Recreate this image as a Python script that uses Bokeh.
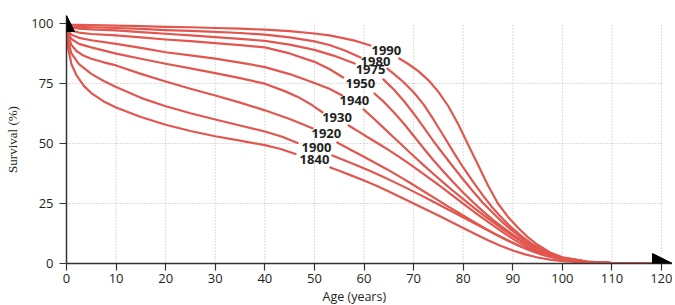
from bokeh.plotting import figure
from bokeh.models import ColumnDataSource, FixedTicker, Arrow, NormalHead, Range1d, Title
from bokeh.core.properties import value
from bokeh.embed import file_html
from bokeh.resources import INLINE

nan = float("nan")

# ---- data; nan marks the gap where the year label sits ----
cohorts = ["1990", "1980", "1975", "1950", "1940", "1930", "1920", "1900", "1840"]

ages_1990 = [0, 0.3, 1, 2.5, 5, 10, 15, 20, 25, 30, 35, 40, 45, 50, 53, 56, 58.5, 61.3, nan,
             67.1, 69, 71, 73, 75, 77, 79, 81, 83, 85, 87, 89, 91, 93, 95, 97.5, 100, 105, 110, 115, 120]
surv_1990 = [100, 99.7, 99.5, 99.4, 99.3, 99.1, 98.9, 98.6, 98.4, 98.1, 97.8, 97.4, 96.8, 95.8, 95, 93.8, 92.6, 90.8, nan,
             85.4, 83, 80, 76.3, 71.5, 65.5, 58, 49.5, 41, 32.5, 25, 19.5, 15, 11, 7.8, 4.6, 2.6, 0.8, 0.2, 0.04, 0]

ages_1980 = [0, 0.3, 1, 2.5, 5, 10, 15, 20, 25, 30, 35, 40, 45, 50, 53, 56, 59.3, nan,
             64.7, 66, 68, 70, 72, 74, 76, 78, 80, 82, 84, 86, 88, 90, 92, 94, 96, 98, 100, 105, 110, 115, 120]
surv_1980 = [100, 99.3, 98.9, 98.6, 98.4, 98.1, 97.7, 97.2, 96.9, 96.5, 96, 95.3, 94.2, 92.5, 91, 88.8, 85.8, nan,
             81.2, 79, 75.5, 71.3, 66.3, 60, 53.3, 46.5, 40, 34, 28.3, 23, 18.5, 14.5, 11, 8, 5.6, 3.8, 2.5, 0.8, 0.2, 0.04, 0]

ages_1975 = [0, 0.3, 1, 2.5, 5, 10, 15, 20, 25, 30, 35, 40, 45, 50, 54, 58.1, nan,
             63.9, 66, 68, 70, 72, 74, 76, 78, 80, 82, 84, 86, 88, 90, 92, 94, 96, 98, 100, 105, 110, 115, 120]
surv_1975 = [100, 98.9, 98.3, 97.8, 97.5, 97.1, 96.4, 95.7, 95, 94.3, 93.6, 92.7, 91.2, 89, 86.5, 83.3, nan,
             76.7, 72.5, 67.8, 62.5, 56.8, 51, 45.5, 40.2, 35, 30, 25.2, 21, 17, 13.5, 10.3, 7.6, 5.3, 3.6, 2.3, 0.7, 0.2, 0.04, 0]

ages_1950 = [0, 0.3, 1, 2.5, 5, 10, 15, 20, 25, 30, 35, 40, 45, 50, 53, 55.8, nan,
             62.1, 64, 66, 68, 70, 72, 74, 76, 78, 80, 82, 84, 86, 88, 90, 92, 94, 96, 98, 100, 105, 110, 115, 120]
surv_1950 = [100, 98, 97, 96.2, 95.6, 95, 94.2, 93.3, 92.6, 91.8, 91, 90, 87.5, 84, 81, 77.5, nan,
             70.8, 67.3, 63, 58.3, 53.2, 48, 43, 38.3, 33.8, 29.5, 25.5, 21.7, 18.2, 15, 12, 9.3, 7, 5, 3.4, 2.2, 0.7, 0.2, 0.04, 0]

ages_1940 = [0, 0.3, 1, 2.5, 5, 10, 15, 20, 25, 30, 35, 40, 45, 50, 53, 55.6, nan,
             59.9, 62, 64, 66, 68, 70, 72, 74, 76, 78, 80, 82, 84, 86, 88, 90, 92, 94, 96, 98, 100, 105, 110, 115, 120]
surv_1940 = [100, 97, 95.3, 94, 93, 91.5, 89.8, 88, 86.7, 85.3, 83.7, 81.8, 78.9, 75.2, 72.8, 70, nan,
             64.2, 60.3, 56.4, 52.5, 48.6, 44.8, 41, 37.3, 33.7, 30.2, 26.8, 23.5, 20.3, 17.2, 14.2, 11.4, 8.8, 6.6, 4.7, 3.2, 2, 0.7, 0.2, 0.04, 0]

ages_1930 = [0, 0.3, 1, 2.5, 5, 10, 15, 20, 25, 30, 35, 40, 44, 47, 49.5, 51.6, nan,
             56.9, 59, 61, 63, 65, 67, 69, 71, 73, 75, 77, 79, 81, 83, 85, 87, 89, 91, 93, 95, 97.5, 100, 105, 110, 115, 120]
surv_1930 = [100, 96, 93.5, 91.5, 90, 87.4, 85.3, 83.2, 81.3, 79.3, 77.2, 74.9, 71.8, 69, 66, 63, nan,
             57.5, 54.8, 52.3, 49.8, 47.2, 44.5, 41.7, 38.8, 35.8, 32.8, 29.6, 26.5, 23.4, 20.3, 17.3, 14.4, 11.6, 9, 6.8, 4.9, 3.1, 1.8, 0.6, 0.15, 0.03, 0]

ages_1920 = [0, 0.3, 1, 2, 3.5, 5, 7.5, 10, 15, 20, 25, 30, 35, 40, 45, 49.6, nan,
             54.6, 57, 59.5, 62, 64.5, 67, 69.5, 72, 74.5, 77, 79.5, 82, 84.5, 87, 89.5, 92, 94.5, 97, 100, 105, 110, 115, 120]
surv_1920 = [100, 95, 91, 88.5, 86.5, 85.3, 83.8, 82.5, 79, 75.8, 72.8, 70, 67, 63.8, 60.2, 56.3, nan,
             50.4, 47.7, 45, 42.2, 39.4, 36.4, 33.3, 30.1, 26.9, 23.7, 20.6, 17.5, 14.5, 11.7, 9.1, 6.8, 4.8, 3.2, 1.8, 0.6, 0.15, 0.03, 0]

ages_1900 = [0, 0.3, 1, 2.5, 5, 7.5, 10, 15, 20, 25, 30, 35, 40, 43.5, 46.6, nan,
             53.6, 56, 58.5, 61, 63.5, 66, 68.5, 71, 73.5, 76, 78.5, 81, 83.5, 86, 88.5, 91, 93.5, 96, 98.5, 101, 105, 110, 115, 120]
surv_1900 = [100, 93, 87.5, 83, 79, 76, 73.5, 69, 65.5, 62.6, 60, 57.5, 55, 52.8, 50.2, nan,
             45, 43, 40.9, 38.7, 36.4, 34, 31.5, 28.9, 26.2, 23.5, 20.8, 18.1, 15.4, 12.7, 10.1, 7.6, 5.4, 3.6, 2.3, 1.4, 0.6, 0.15, 0.03, 0]

ages_1840 = [0, 0.3, 1, 2, 3.5, 5, 7.5, 10, 15, 20, 25, 30, 35, 40, 43, 46.2, nan,
             53.2, 55, 57.5, 60, 62.5, 65, 67.5, 70, 72.5, 75, 77.5, 80, 82.5, 85, 87.5, 90, 92.5, 95, 97.5, 100, 105, 110, 115, 120]
surv_1840 = [100, 90, 83, 78.5, 74, 71, 67.5, 65, 61, 57.8, 55.2, 53, 51.2, 49.3, 47.8, 45.6, nan,
             40, 38.6, 36.6, 34.6, 32.4, 30, 27.5, 25, 22.5, 20, 17.4, 14.8, 12.2, 9.7, 7.4, 5.4, 3.8, 2.5, 1.6, 1, 0.4, 0.15, 0.05, 0]

x_ticks = [0, 10, 20, 30, 40, 50, 60, 70, 80, 90, 100, 110, 120]
y_ticks = [0, 25, 50, 75, 100]

series = {
    "1990": (ages_1990, surv_1990), "1980": (ages_1980, surv_1980),
    "1975": (ages_1975, surv_1975), "1950": (ages_1950, surv_1950),
    "1940": (ages_1940, surv_1940), "1930": (ages_1930, surv_1930),
    "1920": (ages_1920, surv_1920), "1900": (ages_1900, surv_1900),
    "1840": (ages_1840, surv_1840),
}

RED = "#e1564e"
INK = "#231f20"
GRID = "#b8b8b8"

p = figure(width=672, height=304, output_backend="svg", toolbar_location=None,
           x_range=Range1d(0, 122.2), y_range=Range1d(0, 103.3),
           min_border_left=66, min_border_right=0, min_border_top=15, min_border_bottom=41)
p.outline_line_color = None
p.xgrid.visible = False
p.ygrid.visible = False

# dotted grid limited to 0..120 / 0..100
vx = [t for t in x_ticks if t > 0]
p.segment(x0=vx, y0=[0] * len(vx), x1=vx, y1=[100] * len(vx),
          line_color=GRID, line_width=1, line_dash="1 2")
hy = [t for t in y_ticks if 0 < t < 100]
p.segment(x0=[0] * len(hy), y0=hy, x1=[120] * len(hy), y1=hy,
          line_color=GRID, line_width=1, line_dash="1 2")

lab_x, lab_y, lab_t = [], [], []
for name in cohorts:
    a, s = series[name]
    p.line(a, s, line_color=RED, line_width=2.2, line_join="round", line_cap="round")
    i = [k for k, v in enumerate(s) if v != v][0]
    lab_x.append((a[i - 1] + a[i + 1]) / 2)
    lab_y.append((s[i - 1] + s[i + 1]) / 2)
    lab_t.append(name)

src = ColumnDataSource(dict(x=lab_x, y=lab_y, t=lab_t))
p.text(x="x", y="y", text="t", source=src, text_align="center", text_baseline="middle",
       text_font=value("Open Sans"), text_font_style="bold", text_font_size="13px",
       text_color=INK, x_offset=1.5, y_offset=-1.5)

for ax in (p.xaxis[0], p.yaxis[0]):
    ax.axis_line_color = "#333333"
    ax.axis_line_width = 1.5
    ax.major_tick_line_color = "#333333"
    ax.major_tick_line_width = 1.2
    ax.major_tick_out = 7
    ax.major_tick_in = 0
    ax.minor_tick_line_color = None
    ax.major_label_text_font = "Open Sans"
    ax.major_label_text_font_size = "13px"
    ax.major_label_text_color = INK

p.xaxis.ticker = FixedTicker(ticks=x_ticks)
p.yaxis.ticker = FixedTicker(ticks=y_ticks)
p.xaxis.major_label_standoff = 3
p.yaxis.major_label_standoff = 6

p.yaxis.axis_label = "Survival (%)"
p.yaxis.axis_label_text_font = "Liberation Sans Narrow"
p.yaxis.axis_label_text_font_style = "normal"
p.yaxis.axis_label_text_font_size = "13px"
p.yaxis.axis_label_text_color = INK
p.yaxis.axis_label_standoff = 8

p.add_layout(Title(text="Age (years)", align="left", offset=256, standoff=0,
                   text_font="Open Sans", text_font_size="12.5px", text_font_style="normal",
                   text_color=INK), "below")

p.add_layout(Arrow(end=NormalHead(size=20, fill_color="black", line_color="black"),
                   x_start=110, y_start=0, x_end=122.2, y_end=0, line_alpha=0))
p.add_layout(Arrow(end=NormalHead(size=16, fill_color="black", line_color="black"),
                   x_start=0, y_start=90, x_end=0, y_end=103.3, line_alpha=0))

open("out.html", "w").write(file_html(p, INLINE))
